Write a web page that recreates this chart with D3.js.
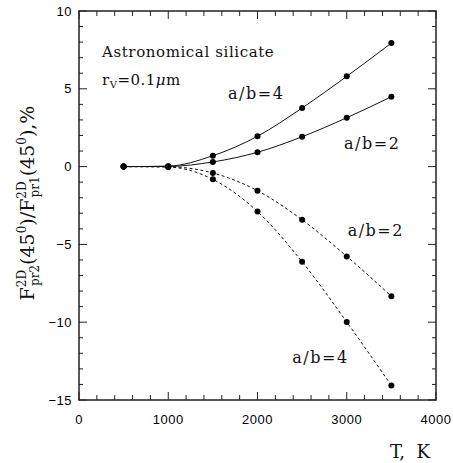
<!DOCTYPE html>
<html><head><meta charset="utf-8">
<script src="https://cdn.jsdelivr.net/npm/d3@7/dist/d3.min.js"></script>
<style>body{margin:0;background:#fff}svg{display:block}</style>
</head><body>
<svg id="c" width="453" height="463"></svg>
<script>
const temps = [500, 1000, 1500, 2000, 2500, 3000, 3500];
const pos4 = [0, 0.03, 0.70, 1.95, 3.77, 5.80, 7.94];
const pos2 = [0, 0.01, 0.30, 0.92, 1.92, 3.14, 4.49];
const neg2 = [0, -0.01, -0.41, -1.55, -3.42, -5.77, -8.33];
const neg4 = [0, -0.03, -0.82, -2.89, -6.12, -9.99, -14.07];
const xTicks = [0, 1000, 2000, 3000, 4000];
const yTicks = [-15, -10, -5, 0, 5, 10];
const seriesNames = ["a/b=4", "a/b=2", "a/b=2", "a/b=4"];

const svg = d3.select("#c");
const L = 79, R = 436, T = 11, B = 400;
const x = d3.scaleLinear().domain([0, 4000]).range([L, R]);
const y = d3.scaleLinear().domain([-15, 10]).range([B, T]);
const tickFont = "'Liberation Sans', Arial, sans-serif";
const serif = "'DejaVu Serif', serif";

// frame
svg.append("rect").attr("x", L).attr("y", T).attr("width", R - L).attr("height", B - T)
  .attr("fill", "none").attr("stroke", "#222").attr("stroke-width", 1.5);

// ticks (inward, all sides)
const g = svg.append("g").attr("stroke", "#222").attr("stroke-width", 1);
d3.range(0, 4001, 200).forEach(v => {
  const major = v % 1000 === 0, len = major ? 8 : 5;
  g.append("line").attr("x1", x(v)).attr("x2", x(v)).attr("y1", B).attr("y2", B - len);
  g.append("line").attr("x1", x(v)).attr("x2", x(v)).attr("y1", T).attr("y2", T + len);
});
d3.range(-15, 11, 1).forEach(v => {
  const major = v % 5 === 0, len = major ? 8 : 4;
  g.append("line").attr("y1", y(v)).attr("y2", y(v)).attr("x1", L).attr("x2", L + len);
  g.append("line").attr("y1", y(v)).attr("y2", y(v)).attr("x1", R).attr("x2", R - len);
});

// tick labels
svg.append("g").selectAll("text").data(xTicks).join("text")
  .attr("x", d => x(d)).attr("y", 424).attr("text-anchor", "middle")
  .attr("font-family", tickFont).attr("font-size", 13).attr("letter-spacing", 0.5).text(d => d);
svg.append("g").selectAll("text").data(yTicks).join("text")
  .attr("x", 72).attr("y", d => y(d) + 4.5).attr("text-anchor", "end")
  .attr("font-family", tickFont).attr("font-size", 13).attr("letter-spacing", 0.5)
  .text(d => d < 0 ? "\u2212" + Math.abs(d) : d);

// series
const series = [
  {vals: pos4, dash: null},
  {vals: pos2, dash: null},
  {vals: neg2, dash: "3,2.5"},
  {vals: neg4, dash: "3,2.5"}
];
const line = d3.line().x(d => x(d[0])).y(d => y(d[1])).curve(d3.curveMonotoneX);
series.forEach(s => {
  const pts = temps.map((t, i) => [t, s.vals[i]]);
  svg.append("path").attr("d", line(pts)).attr("fill", "none")
    .attr("stroke", "#111").attr("stroke-width", 1)
    .attr("stroke-dasharray", s.dash);
  svg.append("g").selectAll("circle").data(pts).join("circle")
    .attr("cx", d => x(d[0])).attr("cy", d => y(d[1])).attr("r", 3).attr("fill", "#000");
});

// annotations
const ann = (txt, xv, yv) => svg.append("text").attr("x", x(xv)).attr("y", y(yv))
  .attr("font-family", serif).attr("font-size", 16).attr("letter-spacing", 1.5)
  .attr("fill", "#111").text(txt);
ann(seriesNames[0], 1670, 4.35);
ann(seriesNames[1], 2970, 1.12);
ann(seriesNames[2], 3010, -4.45);
ann(seriesNames[3], 2390, -12.6);

svg.append("text").attr("x", 102).attr("y", 57).attr("font-family", serif)
  .attr("font-size", 15).attr("letter-spacing", 0.6).attr("fill", "#111").text("Astronomical silicate");
const rv = svg.append("text").attr("x", 102).attr("y", 85).attr("font-family", serif)
  .attr("font-size", 15).attr("letter-spacing", 0.5).attr("fill", "#111");
rv.append("tspan").text("r");
rv.append("tspan").attr("font-size", 10).attr("dy", 3).text("V");
rv.append("tspan").attr("dy", -3).text("=0.1");
rv.append("tspan").attr("font-style", "italic").text("\u03bc");
rv.append("tspan").text("m");

// x label
svg.append("text").attr("x", 390).attr("y", 458).attr("font-family", serif)
  .attr("font-size", 18).attr("fill", "#111").attr("xml:space", "preserve").text("T,  K");

// y label
const yl = svg.append("text").attr("transform", "translate(34,203) rotate(-90)")
  .attr("text-anchor", "middle").attr("font-family", serif).attr("font-size", 19).attr("fill", "#111");
const part = (t, opts = {}) => {
  const s = yl.append("tspan").text(t);
  if (opts.size) s.attr("font-size", opts.size);
  if (opts.dy) s.attr("dy", opts.dy);
  if (opts.dx) s.attr("dx", opts.dx);
  return s;
};
part("F");
part("2D", {size: 12, dy: -8});
part("pr2", {size: 12, dy: 13, dx: -16});
part("(45", {dy: -5});
part("0", {size: 12, dy: -8});
part(")/F", {dy: 8});
part("2D", {size: 12, dy: -8});
part("pr1", {size: 12, dy: 13, dx: -16});
part("(45", {dy: -5});
part("0", {size: 12, dy: -8});
part("),%", {dy: 8});
</script>
</body></html>
